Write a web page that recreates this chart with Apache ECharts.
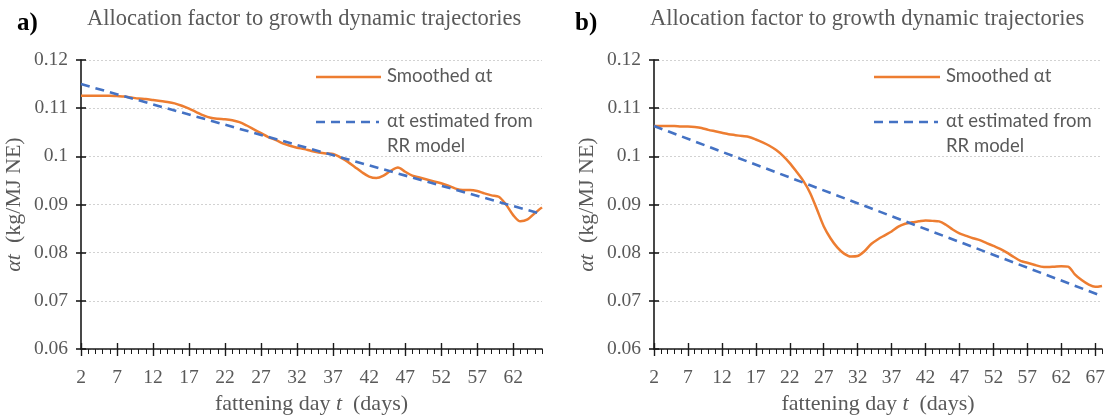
<!DOCTYPE html>
<html><head><meta charset="utf-8">
<script src="https://cdn.jsdelivr.net/npm/echarts@6/dist/echarts.min.js"></script>
<style>html,body{margin:0;padding:0;background:#fff}#c{width:1108px;height:420px}</style>
</head><body><div id="c"></div>
<script>
// ---- data ----
const daysA = ['2','3','4','5','6','7','8','9','10','11','12','13','14','15','16','17','18','19','20','21','22','23','24','25','26','27','28','29','30','31','32','33','34','35','36','37','38','39','40','41','42','43','44','45','46','47','48','49','50','51','52','53','54','55','56','57','58','59','60','61','62','63','64','65','66'];
const smoothedA = [0.1126,0.1126,0.1126,0.1126,0.1126,0.1125,0.1124,0.1122,0.1120,0.1119,0.1117,0.1115,0.1113,0.1110,0.1105,0.1099,0.1092,0.1085,0.1080,0.1078,0.1077,0.1075,0.1071,0.1064,0.1056,0.1048,0.1040,0.1034,0.1027,0.1022,0.1018,0.1015,0.1011,0.1008,0.1006,0.1005,0.0998,0.0989,0.0978,0.0967,0.0958,0.0955,0.0960,0.0970,0.0977,0.0968,0.0960,0.0956,0.0952,0.0948,0.0944,0.0939,0.0933,0.0930,0.0930,0.0928,0.0923,0.0919,0.0916,0.0900,0.0878,0.0865,0.0869,0.0882,0.0894];
const rrDaysA = ['2','66'];
const rrA = [0.1150, 0.0880];

const daysB = ['2','3','4','5','6','7','8','9','10','11','12','13','14','15','16','17','18','19','20','21','22','23','24','25','26','27','28','29','30','31','32','33','34','35','36','37','38','39','40','41','42','43','44','45','46','47','48','49','50','51','52','53','54','55','56','57','58','59','60','61','62','63','64','65','66','67','68'];
const smoothedB = [0.1063,0.1063,0.1063,0.1063,0.1062,0.1062,0.1061,0.1059,0.1055,0.1052,0.1049,0.1046,0.1044,0.1042,0.1040,0.1035,0.1029,0.1022,0.1013,0.1001,0.0986,0.0968,0.0949,0.0924,0.0890,0.0855,0.0830,0.0811,0.0798,0.0792,0.0793,0.0803,0.0818,0.0828,0.0836,0.0844,0.0854,0.0860,0.0863,0.0865,0.0867,0.0866,0.0865,0.0858,0.0848,0.0840,0.0835,0.0830,0.0826,0.0820,0.0814,0.0808,0.0800,0.0791,0.0783,0.0779,0.0775,0.0771,0.0770,0.0771,0.0772,0.0771,0.0755,0.0743,0.0734,0.0729,0.0731];
const rrDaysB = ['2','68'];
const rrB = [0.1063, 0.0710];

const yTicks = {min: 0.06, max: 0.12, interval: 0.01};
const titleText = 'Allocation factor to growth dynamic trajectories';
const legendSmoothed = 'Smoothed \u03b1t';
const legendRR1 = '\u03b1t estimated from';
const legendRR2 = 'RR model';

// ---- styles ----
const SERIF = '"Liberation Serif", "DejaVu Serif", serif';
const SANS = 'Lato, "Open Sans", sans-serif';
const GRAY = '#595959';
const AXIS = '#1a1a1a';
const ORANGE = '#ED7D31';
const BLUE = '#4472C4';

const grids = [
  {left: 81, top: 60, width: 461, height: 289},
  {left: 654, top: 60, width: 448, height: 289}
];

function xAxes(gi, days) {
  const base = {type: 'category', gridIndex: gi, data: days, boundaryGap: false, position: 'bottom',
    splitLine: {show: false}};
  return [
    Object.assign({}, base, {
      axisLine: {show: true, lineStyle: {color: AXIS, width: 1.6}},
      axisTick: {show: true, interval: 0, length: 5, inside: false, lineStyle: {color: AXIS, width: 1}},
      axisLabel: {interval: 4, margin: 19, fontFamily: SERIF, fontSize: 19.5, color: GRAY},
      name: 'fattening day {i|t}  (days)', nameLocation: 'middle', nameGap: 42,
      nameTextStyle: {fontFamily: SERIF, fontSize: 22, color: GRAY,
        rich: {i: {fontFamily: SERIF, fontSize: 22, color: GRAY, fontStyle: 'italic'}}}
    }),
    Object.assign({}, base, {
      axisLine: {show: false}, axisLabel: {show: false},
      axisTick: {show: true, interval: 4, length: 7, inside: false, lineStyle: {color: AXIS, width: 1.4}}
    }),
    Object.assign({}, base, {
      axisLine: {show: false}, axisLabel: {show: false},
      axisTick: {show: true, interval: 4, length: 6, inside: true, lineStyle: {color: AXIS, width: 1.4}}
    })
  ];
}

function yAxes(gi) {
  const base = {type: 'value', gridIndex: gi, position: 'left', min: yTicks.min, max: yTicks.max, interval: yTicks.interval};
  return [
    Object.assign({}, base, {
      axisLine: {show: true, lineStyle: {color: AXIS, width: 1.6}},
      axisTick: {show: true, length: 5, inside: false, lineStyle: {color: AXIS, width: 1.6}},
      axisLabel: {margin: 13, fontFamily: SERIF, fontSize: 19.5, color: GRAY},
      splitLine: {show: true, lineStyle: {color: '#d2d2d2', type: [2, 2], width: 1}},
      name: '{i|\u03b1t}  (kg/MJ NE)', nameLocation: 'middle', nameGap: 56, nameRotate: 90,
      nameTextStyle: {fontFamily: SERIF, fontSize: 22, color: GRAY,
        rich: {i: {fontFamily: SERIF, fontSize: 22, color: GRAY, fontStyle: 'italic'}}}
    }),
    Object.assign({}, base, {
      axisLine: {show: false}, axisLabel: {show: false}, splitLine: {show: false},
      axisTick: {show: true, length: 5, inside: true, lineStyle: {color: AXIS, width: 1.6}}
    })
  ];
}

function seriesFor(gi, days, vals, rrDays, rr) {
  return [
    {type: 'line', name: legendSmoothed, xAxisIndex: gi * 3, yAxisIndex: gi * 2,
     data: vals, symbol: 'none', smooth: 0.3, lineStyle: {color: ORANGE, width: 2.5}, z: 3},
    {type: 'line', name: legendRR1, xAxisIndex: gi * 3, yAxisIndex: gi * 2,
     data: rrDays.map((d, i) => [d, rr[i]]), symbol: 'none',
     lineStyle: {color: BLUE, width: 2.6, type: [9, 6]}, z: 4}
  ];
}

function legendGraphics(x0, lineLen) {
  const txt = (x, y, s) => ({type: 'text', left: x, top: y - 9,
    style: {text: s, font: '18.5px ' + SANS, fill: GRAY}});
  return [
    {type: 'line', shape: {x1: x0, y1: 77, x2: x0 + lineLen, y2: 77}, style: {stroke: ORANGE, lineWidth: 2.6}},
    {type: 'line', shape: {x1: x0, y1: 122, x2: x0 + lineLen - 2, y2: 122}, style: {stroke: BLUE, lineWidth: 2.6, lineDash: [9, 6]}},
    txt(x0 + lineLen + 6, 76, legendSmoothed),
    txt(x0 + lineLen + 6, 121, legendRR1),
    txt(x0 + lineLen + 6, 146, legendRR2)
  ];
}

const option = {
  animation: false,
  backgroundColor: '#fff',
  title: [
    {text: 'a)', left: 17, top: 11, padding: 0, textStyle: {fontFamily: SERIF, fontWeight: 'bold', fontSize: 25, color: '#000'}},
    {text: titleText, left: 87, top: 8, padding: 0, textStyle: {fontFamily: SERIF, fontWeight: 'normal', fontSize: 22.5, color: GRAY}},
    {text: 'b)', left: 575, top: 11, padding: 0, textStyle: {fontFamily: SERIF, fontWeight: 'bold', fontSize: 25, color: '#000'}},
    {text: titleText, left: 650, top: 8, padding: 0, textStyle: {fontFamily: SERIF, fontWeight: 'normal', fontSize: 22.5, color: GRAY}}
  ],
  grid: grids,
  xAxis: xAxes(0, daysA).concat(xAxes(1, daysB)),
  yAxis: yAxes(0).concat(yAxes(1)),
  series: seriesFor(0, daysA, smoothedA, rrDaysA, rrA).concat(seriesFor(1, daysB, smoothedB, rrDaysB, rrB)),
  graphic: legendGraphics(316, 65).concat(legendGraphics(874, 66))
};

const chart = echarts.init(document.getElementById('c'), null, {renderer: 'canvas'});
chart.setOption(option);
</script>
</body></html>
